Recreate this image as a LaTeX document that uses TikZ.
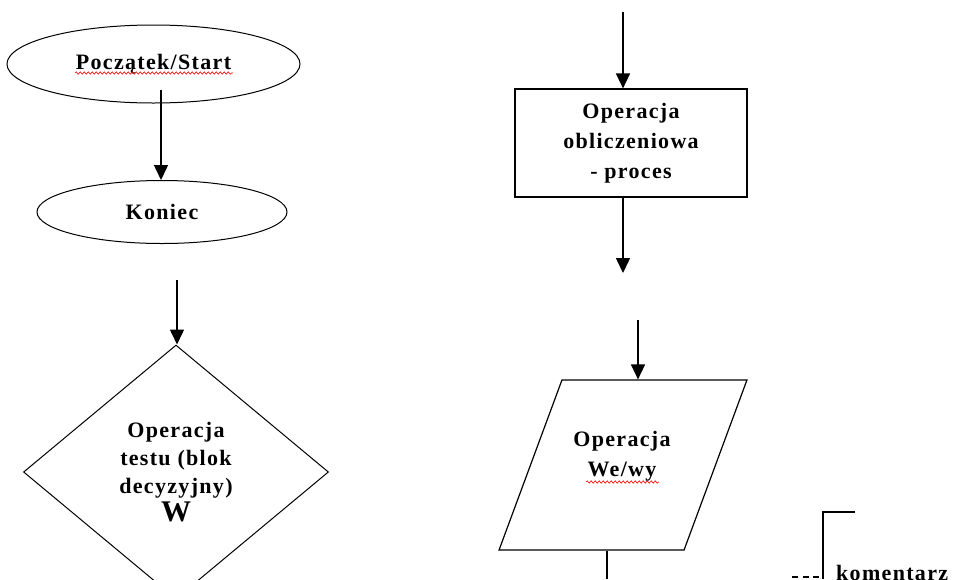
\documentclass[tikz,border=0pt]{standalone}
\usepackage{fontspec}
\setmainfont{Liberation Serif}[LetterSpace=6]
\usetikzlibrary{arrows.meta,shapes.geometric,decorations.pathmorphing}

\begin{document}
\begin{tikzpicture}[x=1pt,y=-1pt,
		font=\bfseries\fontsize{22}{30}\selectfont,
		flow/.style={arrows={-Triangle[length=15pt,width=14pt]},line width=1.5},
		spell/.style={red,line width=0.6,decorate,decoration={snake,amplitude=1.2pt,segment length=4pt}}]
		\useasboundingbox (0,0) rectangle (953,579);
		% Start and stop
		\node [draw,ellipse,line width=1.0,minimum width=293pt,minimum height=78pt,inner sep=0] (start) at (153.5,64) {Początek/Start};
		\node [draw,ellipse,line width=1.0,minimum width=250pt,minimum height=63pt,inner sep=0] (stop) at (162,212) {Koniec};
		\coordinate (s0) at (161,90);
		\draw [flow] (s0) -- (s0 |- stop.north);
		\draw [spell] (75,73) -- (233,73);
		% Decision
		\node [draw,diamond,line width=1.0,minimum width=305pt,minimum height=254pt,inner sep=0,align=center,font=\bfseries\fontsize{22}{28}\selectfont] (test) at (176,472) {Operacja\\testu (blok\\decyzyjny)\\{\fontsize{30}{30}\selectfont W}};
		\coordinate (d0) at (177,280);
		\draw [flow] (d0) -- (d0 |- test.north);
		% Process
		\node [draw,rectangle,line width=1.2,minimum width=232pt,minimum height=108pt,align=center] (calc) at (631,143) {Operacja\\obliczeniowa\\- proces};
		\coordinate (c0) at (623,12);
		\coordinate (c1) at (623,273);
		\draw [flow] (c0) -- (c0 |- calc.north);
		\draw [flow] (c0 |- calc.south) -- (c1);
		% Input / output
		\node [draw,rectangle,xslant=0.37,line width=1.2,minimum width=185pt,minimum height=170pt,inner sep=0] (io) at (623,465) {};
		\node [align=center] (iotext) at (622,456) {Operacja\\We/wy};
		\coordinate (w0) at (638,320);
		\coordinate (w1) at (607,579);
		\draw [flow] (w0) -- (w0 |- io.north);
		\draw [line width=1.5] (w1 |- io.south) -- (w1);
		\draw [spell] (586,482) -- (659,482);
		% Comment
		\coordinate (k0) at (823,579);
		\coordinate (k1) at (855,512);
		\coordinate (k2) at (792,577);
		\coordinate (k3) at (819,577);
		\draw [line width=1.2] (k1) -| (k0);
		\draw [line width=2.0,dash pattern=on 6pt off 4.5pt] (k2) -- (k3);
		\node [anchor=base west,inner sep=0] (note) at (836,580) {komentarz};
	\end{tikzpicture}
\end{document}
